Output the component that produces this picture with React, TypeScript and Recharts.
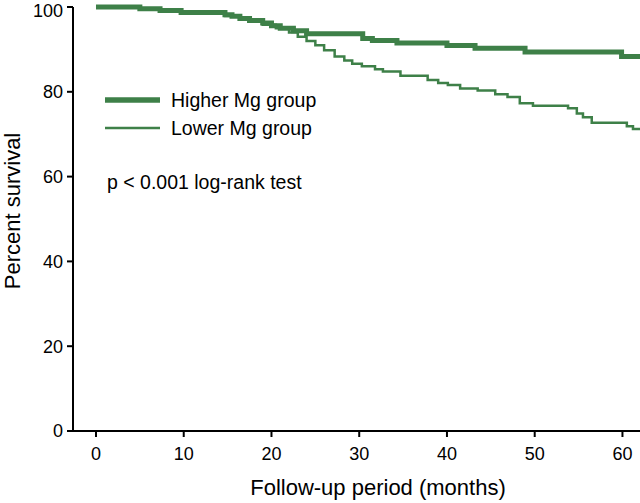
import React from "react";
import { LineChart, Line, XAxis, YAxis } from "recharts";

const higherTimes = [0, 5.0, 7.3, 9.7, 14.7, 15.5, 16.4, 17.5, 19.0, 20.0, 21.0, 22.5, 24.0, 30.4, 31.5, 34.3, 40.0, 43.2, 48.9, 59.9, 62];
const higherSurvival = [100, 99.6, 99.2, 98.7, 98.2, 97.8, 97.3, 96.8, 96.2, 95.6, 95.0, 94.4, 93.7, 92.6, 92.1, 91.5, 90.9, 90.3, 89.4, 88.3, 88.3];

const lowerTimes = [0, 5.0, 7.3, 9.7, 14.7, 16.4, 19.0, 20.5, 22.0, 23.0, 24.0, 25.0, 26.0, 27.2, 28.3, 29.2, 30.3, 31.8, 32.7, 34.7, 37.8, 39.0, 40.1, 41.5, 43.5, 45.5, 46.9, 48.3, 49.8, 53.8, 54.8, 55.5, 56.5, 60.5, 61.2, 62];
const lowerSurvival = [100, 99.6, 99.2, 98.6, 97.9, 97.0, 95.8, 95.0, 94.0, 93.0, 92.0, 91.0, 89.8, 88.3, 87.4, 86.6, 86.0, 85.3, 84.8, 83.8, 82.8, 82.1, 81.6, 80.8, 80.3, 79.4, 78.8, 77.3, 76.7, 76.1, 74.9, 74.0, 72.7, 71.9, 71.2, 71.2];

const xTicks = [0, 10, 20, 30, 40, 50, 60];
const yTicks = [0, 20, 40, 60, 80, 100];

const seriesNames = ["Higher Mg group", "Lower Mg group"];
const pText = "p < 0.001 log-rank test";
const xTitle = "Follow-up period (months)";
const yTitle = "Percent survival";

const GREEN = "#3e8048";
const FONT = "'Liberation Sans', Arial, Helvetica, sans-serif";

const higherData = higherTimes.map((t, i) => ({ t, s: higherSurvival[i] }));
const lowerData = lowerTimes.map((t, i) => ({ t, s: lowerSurvival[i] }));

const YLabelAndLegend = () => (
  <g>
    <text x={12} y={211} textAnchor="middle" dominantBaseline="central" transform="rotate(-90 12 211)" fontSize={22} fontFamily={FONT} fill="#000">{yTitle}</text>
    <g transform="translate(105, 88)">
      <line x1={0} x2={55} y1={12} y2={12} stroke={GREEN} strokeWidth={5.5} />
      <text x={66} y={12} dy="0.355em" fontSize={19.5} fontFamily={FONT} fill="#000">{seriesNames[0]}</text>
      <line x1={0} x2={55} y1={40} y2={40} stroke={GREEN} strokeWidth={2.5} />
      <text x={66} y={40} dy="0.355em" fontSize={19.5} fontFamily={FONT} fill="#000">{seriesNames[1]}</text>
      <text x={2} y={94} dy="0.355em" fontSize={19.5} fontFamily={FONT} fill="#000">{pText}</text>
    </g>
  </g>
);

export default function App() {
  return (
    <div style={{ position: "absolute", left: 0, top: 0, width: 640, height: 503, background: "#fff" }}>
      <LineChart width={640} height={503} margin={{ top: 7, right: 0, bottom: 0, left: 0 }}>
        <XAxis
          type="number"
          dataKey="t"
          domain={[-2.62, 62]}
          ticks={xTicks}
          allowDataOverflow
          height={72}
          stroke="#000"
          strokeWidth={2}
          tickSize={6}
          tickMargin={10}
          tick={{ fontSize: 18, fill: "#000", fontFamily: FONT }}
          label={{
            content: () => (
              <text x={378} y={495} textAnchor="middle" fontSize={22} fontFamily={FONT} fill="#000">{xTitle}</text>
            ),
          }}
        />
        <YAxis
          type="number"
          domain={[0, 100]}
          ticks={yTicks}
          width={73}
          stroke="#000"
          strokeWidth={2}
          tickSize={6}
          tickMargin={4}
          tick={{ fontSize: 18, fill: "#000", fontFamily: FONT }}
          label={{ content: YLabelAndLegend }}
        />
        <Line data={higherData} dataKey="s" name={seriesNames[0]} type="stepAfter" stroke={GREEN} strokeWidth={5} dot={false} isAnimationActive={false} />
        <Line data={lowerData} dataKey="s" name={seriesNames[1]} type="stepAfter" stroke={GREEN} strokeWidth={2.5} dot={false} isAnimationActive={false} />
      </LineChart>
    </div>
  );
}
